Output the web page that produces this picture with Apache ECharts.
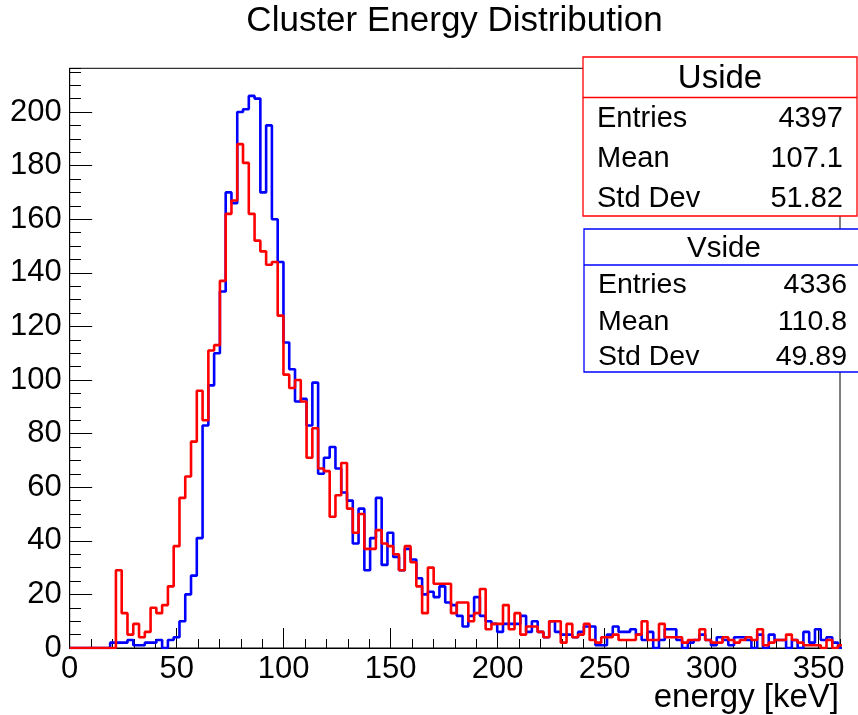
<!DOCTYPE html>
<html>
<head>
<meta charset="utf-8">
<script src="https://cdn.jsdelivr.net/npm/echarts@6/dist/echarts.min.js"></script>
<style>
html,body{margin:0;padding:0;background:#fff;}
#chart{width:858px;height:715px;}
</style>
</head>
<body>
<div id="chart"></div>
<script>
// ---- data ----
const chartTitle = 'Cluster Energy Distribution';
const xAxisTitle = 'energy [keV]';
const binWidth = 2.7; // keV per bin
const xRange = [0, 360];
const yMax = 216.3;

// Vside (blue) counts per bin, starting at 0 keV
const vsideCounts = [
0,0,0,0,0,0,0,2,2,2,
3,1,1,2,2,3,0,3,4,10,
20,27,41,83,98,110,133,170,166,200,
201,206,205,170,195,160,144,114,104,92,
93,83,99,65,71,75,67,58,55,39,
52,29,41,56,31,43,34,29,37,33,
26,20,21,19,23,17,16,12,8,12,
19,12,10,9,6,9,9,9,12,6,
10,6,4,10,6,5,5,4,6,8,
8,1,1,5,8,6,6,7,5,3,
6,0,3,7,7,3,0,2,3,5,
3,1,4,3,1,4,4,3,0,5,
0,5,3,3,0,3,0,6,2,7,
3,4,2,0
];

// Uside (red) counts per bin, starting at 0 keV
const usideCounts = [
0,0,0,0,0,0,0,0,29,13,
5,9,4,6,15,13,16,23,38,56,
64,77,96,85,111,113,137,162,167,188,
181,162,152,148,143,144,124,102,97,100,
92,71,82,67,66,49,57,69,52,43,
50,37,37,44,39,38,35,29,38,32,
23,13,30,24,24,24,13,17,17,10,
13,22,7,9,9,16,7,13,5,8,
8,6,4,10,10,2,9,4,5,9,
3,2,4,4,5,3,3,3,5,10,
3,3,9,4,4,4,2,3,3,7,
3,2,2,4,3,2,3,4,3,7,
1,2,3,3,5,3,2,1,1,1,
0,3,0,1
];

const statLabels = ['Entries', 'Mean', 'Std Dev'];
const usideStats = ['4397', '107.1', '51.82'];
const vsideStats = ['4336', '110.8', '49.89'];

// ---- build ----
function histPoints(counts) {
  const pts = counts.map((v, i) => [i * binWidth, v]);
  pts.push([counts.length * binWidth, counts[counts.length - 1]]);
  return pts;
}

const FONT = '"Liberation Sans", Arial, Helvetica, sans-serif';
const chart = echarts.init(document.getElementById('chart'), null, {renderer: 'canvas'});

function statBox(x, y, w, h, headH, color, name, nameSize, rowYs, labelX, valueX, vals, fs) {
  const els = [
    {type: 'rect', shape: {x: x, y: y, width: w, height: h},
     style: {fill: '#fff', stroke: color, lineWidth: 1.3}, z: 100},
    {type: 'line', shape: {x1: x, y1: y + headH, x2: x + w, y2: y + headH},
     style: {stroke: color, lineWidth: 1.3}, z: 101},
    {type: 'text', x: x + w / 2, y: y + headH / 2 + 2, z: 102,
     style: {text: name, font: nameSize + 'px ' + FONT, fill: '#000',
             textAlign: 'center', textVerticalAlign: 'middle', align: 'center', verticalAlign: 'middle'}}
  ];
  statLabels.forEach((lab, i) => {
    els.push({type: 'text', x: labelX, y: rowYs[i], z: 102,
      style: {text: lab, font: fs + 'px ' + FONT, fill: '#000',
              textAlign: 'left', textVerticalAlign: 'middle', align: 'left', verticalAlign: 'middle'}});
    els.push({type: 'text', x: valueX, y: rowYs[i], z: 102,
      style: {text: vals[i], font: fs + 'px ' + FONT, fill: '#000',
              textAlign: 'right', textVerticalAlign: 'middle', align: 'right', verticalAlign: 'middle'}});
  });
  return els;
}

const graphics = [
  {type: 'text', x: 454.5, y: 21, z: 50,
   style: {text: chartTitle, font: '35px ' + FONT, fill: '#000',
           textAlign: 'center', textVerticalAlign: 'middle', align: 'center', verticalAlign: 'middle'}},
  {type: 'text', x: 839, y: 698, z: 50,
   style: {text: xAxisTitle, font: '33px ' + FONT, fill: '#000',
           textAlign: 'right', textVerticalAlign: 'middle', align: 'right', verticalAlign: 'middle'}}
].concat(
  statBox(583, 57, 274, 159, 40.5, '#ff0000', 'Uside', 33, [118.5, 158.5, 198.5], 597, 843, usideStats, 29),
  statBox(584, 229, 280, 143, 36, '#0000ff', 'Vside', 29.5, [285, 322, 357], 598, 847, vsideStats, 28.5)
);

const axisLabelStyle = {fontSize: 31, color: '#000', fontFamily: FONT};

chart.setOption({
  animation: false,
  backgroundColor: '#fff',
  grid: {left: 69.7, top: 68.3, right: 18, bottom: 67, show: true,
         borderColor: '#000', borderWidth: 1, backgroundColor: 'transparent'},
  xAxis: [
    {type: 'value', min: xRange[0], max: xRange[1], interval: 50, position: 'bottom',
     axisLine: {show: true, onZero: false, lineStyle: {color: '#000', width: 1}},
     axisTick: {show: true, inside: true, length: 20, lineStyle: {color: '#000', width: 1}},
     axisLabel: Object.assign({margin: 6, showMaxLabel: false}, axisLabelStyle),
     splitLine: {show: false}},
    {type: 'value', min: xRange[0], max: xRange[1], interval: 10, position: 'bottom',
     axisLine: {show: false, onZero: false},
     axisTick: {show: true, inside: true, length: 9, lineStyle: {color: '#000', width: 1}},
     axisLabel: {show: false}, splitLine: {show: false}}
  ],
  yAxis: [
    {type: 'value', min: 0, max: yMax, interval: 20, position: 'left',
     axisLine: {show: true, onZero: false, lineStyle: {color: '#000', width: 1}},
     axisTick: {show: true, inside: true, length: 22.5, lineStyle: {color: '#000', width: 1}},
     axisLabel: Object.assign({margin: 8, showMaxLabel: false}, axisLabelStyle),
     splitLine: {show: false}},
    {type: 'value', min: 0, max: yMax, interval: 5, position: 'left',
     axisLine: {show: false, onZero: false},
     axisTick: {show: true, inside: true, length: 11.3, lineStyle: {color: '#000', width: 1}},
     axisLabel: {show: false}, splitLine: {show: false}}
  ],
  series: [
    {name: 'Vside', type: 'line', step: 'end', xAxisIndex: 0, yAxisIndex: 0,
     data: histPoints(vsideCounts), showSymbol: false, symbol: 'none', clip: true,
     lineStyle: {color: '#0000ff', width: 2.6}, itemStyle: {color: '#0000ff'}, z: 3},
    {name: 'Uside', type: 'line', step: 'end', xAxisIndex: 0, yAxisIndex: 0,
     data: histPoints(usideCounts), showSymbol: false, symbol: 'none', clip: true,
     lineStyle: {color: '#ff0000', width: 2.6}, itemStyle: {color: '#ff0000'}, z: 4}
  ],
  graphic: graphics
});
</script>
</body>
</html>
